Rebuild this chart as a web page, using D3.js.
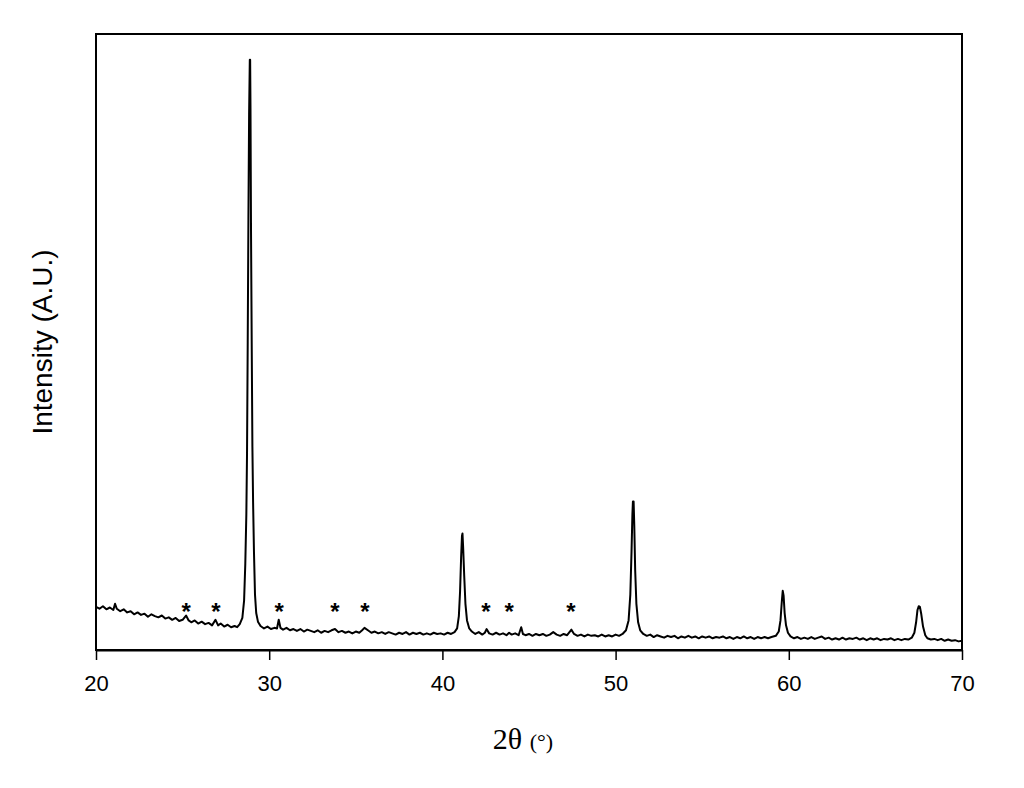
<!DOCTYPE html>
<html>
<head>
    <meta charset="utf-8" />
    <title>XRD pattern</title>
    <style>
        body { margin: 0; background: #fff; }
        svg { display: block; }
    </style>
</head>
<body>
    <script src="https://cdn.jsdelivr.net/npm/d3@7"></script>
    <script>

        // scan: [2θ (deg), intensity (a.u.)]
        let scan = [
            [20.0, 7.0], [20.2, 6.7], [20.4, 7.1], [20.6, 6.6], [20.8, 6.9], [21.0, 6.5], [21.1, 7.5], [21.2, 6.7],
            [21.4, 6.3], [21.6, 6.6], [21.8, 6.1], [22.0, 6.3], [22.2, 5.8], [22.4, 6.1], [22.6, 5.7], [22.8, 5.9],
            [23.0, 5.4], [23.2, 5.8], [23.4, 5.5], [23.6, 5.3], [23.8, 5.6], [24.0, 5.1], [24.2, 5.3], [24.4, 4.9],
            [24.6, 5.2], [24.8, 4.7], [25.0, 4.9], [25.2, 5.6], [25.35, 4.8], [25.5, 4.5], [25.7, 4.8], [25.9, 4.3],
            [26.1, 4.6], [26.3, 4.2], [26.5, 4.4], [26.7, 4.0], [26.9, 4.9], [27.05, 4.0], [27.2, 4.3], [27.4, 3.8],
            [27.6, 4.1], [27.8, 3.7], [28.0, 3.9], [28.15, 3.7], [28.3, 4.2],
            // main reflection
            [28.45, 5.2], [28.55, 8.0], [28.62, 14], [28.68, 22], [28.72, 32], [28.76, 50], [28.80, 70], [28.84, 87],
            [28.88, 95.8], [28.90, 95.8], [28.92, 88], [28.95, 68], [28.99, 50], [29.03, 33], [29.07, 24], [29.12, 16],
            [29.18, 9], [29.25, 6], [29.35, 4.6], [29.5, 3.9],
            [29.7, 3.5], [29.9, 3.8], [30.1, 3.4], [30.3, 3.6], [30.45, 3.5], [30.55, 4.9], [30.65, 3.6], [30.8, 3.3],
            [31.0, 3.6], [31.2, 3.2], [31.4, 3.4], [31.6, 3.1], [31.8, 3.4], [32.0, 3.0], [32.2, 3.3], [32.4, 3.1],
            [32.6, 2.9], [32.8, 3.2], [33.0, 2.8], [33.2, 3.1], [33.4, 2.9], [33.6, 3.2], [33.8, 3.4], [34.0, 2.9],
            [34.2, 3.1], [34.4, 2.8], [34.6, 3.0], [34.8, 2.7], [35.0, 3.0], [35.2, 2.8], [35.4, 3.3], [35.5, 3.6],
            [35.7, 3.2], [35.9, 2.8], [36.1, 3.0], [36.3, 2.7], [36.5, 2.9], [36.7, 2.6], [36.9, 2.9], [37.1, 2.7],
            [37.3, 2.5], [37.5, 2.8], [37.7, 2.6], [37.9, 2.9], [38.1, 2.5], [38.3, 2.8], [38.5, 2.6], [38.7, 2.8],
            [38.9, 2.5], [39.1, 2.7], [39.3, 2.5], [39.5, 2.8], [39.7, 2.6], [39.9, 2.7], [40.1, 2.5], [40.3, 2.8],
            [40.5, 2.6], [40.7, 2.9],
            [40.85, 3.5], [40.95, 5.5], [41.02, 9.5], [41.08, 15], [41.13, 18.5], [41.16, 18.9], [41.20, 16.5],
            [41.26, 12], [41.33, 7.5], [41.42, 4.8], [41.55, 3.5], [41.7, 3.0],
            [41.9, 2.6], [42.1, 2.9], [42.3, 2.5], [42.45, 2.8], [42.55, 3.4], [42.7, 2.7], [42.9, 2.5], [43.1, 2.8],
            [43.3, 2.5], [43.5, 2.7], [43.7, 2.4], [43.85, 2.8], [44.0, 2.5], [44.2, 2.7], [44.4, 2.4], [44.55, 3.7],
            [44.65, 2.6], [44.8, 2.4], [45.0, 2.6], [45.2, 2.3], [45.4, 2.6], [45.6, 2.4], [45.8, 2.6], [46.0, 2.3],
            [46.2, 2.5], [46.4, 2.9], [46.6, 2.5], [46.8, 2.3], [47.0, 2.6], [47.2, 2.4], [47.45, 3.3], [47.6, 2.6],
            [47.8, 2.3], [48.0, 2.5], [48.2, 2.2], [48.4, 2.5], [48.6, 2.3], [48.8, 2.4], [49.0, 2.2], [49.2, 2.5],
            [49.4, 2.2], [49.6, 2.4], [49.8, 2.2], [50.0, 2.5], [50.2, 2.3], [50.4, 2.6],
            [50.6, 3.2], [50.75, 4.8], [50.85, 9], [50.92, 16], [50.97, 22], [51.00, 24.1], [51.04, 24.1], [51.08, 20],
            [51.13, 13], [51.20, 7.5], [51.30, 4.5], [51.42, 3.2], [51.6, 2.6],
            [51.8, 2.3], [52.0, 2.5], [52.2, 2.1], [52.4, 2.4], [52.6, 2.2], [52.8, 2.0], [53.0, 2.3], [53.2, 2.1],
            [53.4, 2.3], [53.6, 1.9], [53.8, 2.2], [54.0, 2.0], [54.2, 2.3], [54.4, 2.0], [54.6, 2.2], [54.8, 1.9],
            [55.0, 2.2], [55.2, 2.0], [55.4, 2.2], [55.6, 1.9], [55.8, 2.1], [56.0, 2.0], [56.2, 2.2], [56.4, 1.9],
            [56.6, 2.1], [56.8, 1.8], [57.0, 2.1], [57.2, 1.9], [57.4, 2.2], [57.6, 1.9], [57.8, 2.1], [58.0, 1.8],
            [58.2, 2.1], [58.4, 1.9], [58.6, 2.1], [58.8, 1.9], [59.0, 2.1],
            [59.25, 2.3], [59.42, 3.0], [59.52, 4.8], [59.60, 8.0], [59.65, 9.6], [59.70, 8.8], [59.76, 6.0],
            [59.84, 4.0], [59.95, 2.8], [60.1, 2.2],
            [60.3, 1.9], [60.5, 2.1], [60.7, 1.8], [60.9, 2.0], [61.1, 1.8], [61.3, 2.1], [61.5, 1.8], [61.7, 2.0],
            [61.9, 2.2], [62.1, 1.8], [62.3, 2.0], [62.5, 1.7], [62.7, 1.9], [62.9, 1.7], [63.1, 2.0], [63.3, 1.7],
            [63.5, 1.9], [63.7, 1.8], [63.9, 2.0], [64.1, 1.7], [64.3, 1.9], [64.5, 1.6], [64.7, 1.9], [64.9, 1.7],
            [65.1, 1.9], [65.3, 1.6], [65.5, 1.8], [65.7, 1.7], [65.9, 1.9], [66.1, 1.6], [66.3, 1.8], [66.5, 1.6],
            [66.7, 1.8], [66.9, 1.7],
            [67.10, 2.0], [67.25, 2.8], [67.35, 4.5], [67.43, 6.5], [67.50, 7.1], [67.57, 7.0], [67.65, 5.8],
            [67.75, 3.8], [67.88, 2.4], [68.0, 1.9],
            [68.2, 1.7], [68.4, 1.8], [68.6, 1.6], [68.8, 1.8], [69.0, 1.5], [69.2, 1.7], [69.4, 1.5], [69.6, 1.6],
            [69.8, 1.4], [70.0, 1.5]
        ]

        // positions of the * markers (2θ)
        let starTheta = [25.2, 26.93, 30.57, 33.8, 35.53, 42.52, 43.85, 47.42]
        let starLevel = 7.0

        let xTicks = [20, 30, 40, 50, 60, 70]

        let margin = { top: 34, right: 62, bottom: 138, left: 96 },
            width = 1024 - margin.left - margin.right,
            height = 788 - margin.top - margin.bottom

        let svg = d3.select('body')
                    .append('svg')
                    .attr('width', 1024)
                    .attr('height', 788)

        let g = svg.append('g')
                    .attr('transform', `translate(${margin.left}, ${margin.top})`)

        let x = d3.scaleLinear().domain([20, 70]).range([0, width])
        let y = d3.scaleLinear().domain([0, 100]).range([height, 0])

        let line = d3.line()
                        .x(function (d) { return x(d[0]) })
                        .y(function (d) { return y(d[1]) })

        g.append('path')
            .datum(scan)
            .attr('d', line)
            .attr('fill', 'none')
            .attr('stroke', '#000')
            .attr('stroke-width', 2)
            .attr('stroke-linejoin', 'round')

        // frame
        g.append('rect')
            .attr('width', width)
            .attr('height', height)
            .attr('fill', 'none')
            .attr('stroke', '#000')
            .attr('stroke-width', 2)

        let xAxis = d3.axisBottom(x)
                        .tickValues(xTicks)
                        .tickSize(10)
                        .tickSizeOuter(0)
                        .tickPadding(15)

        let xAxisG = g.append('g')
            .attr('transform', `translate(0, ${height})`)
            .call(xAxis)

        xAxisG.select('.domain').attr('stroke-width', 2)
        xAxisG.selectAll('.tick line').attr('stroke-width', 1.5)
        xAxisG.selectAll('.tick text')
            .attr('font-family', 'Arial, "Liberation Sans", sans-serif')
            .attr('font-size', 22)
            .attr('fill', '#000')

        // stars
        g.selectAll('text.star')
            .data(starTheta)
            .enter()
                .append('text')
                .classed('star', true)
                .attr('x', function (d) { return x(d) })
                .attr('y', y(starLevel) + 13)
                .attr('text-anchor', 'middle')
                .attr('font-family', 'Arial, "Liberation Sans", sans-serif')
                .attr('font-size', 24)
                .attr('font-weight', 'bold')
                .text('*')

        // axis titles
        svg.append('text')
            .attr('transform', `translate(52, ${margin.top + height / 2}) rotate(-90)`)
            .attr('text-anchor', 'middle')
            .attr('font-family', 'Arial, "Liberation Sans", sans-serif')
            .attr('font-size', 28)
            .text('Intensity (A.U.)')

        let xTitle = svg.append('text')
            .attr('x', 523)
            .attr('y', 749)
            .attr('text-anchor', 'middle')
            .attr('font-family', '"Times New Roman", "Liberation Serif", serif')

        xTitle.append('tspan').attr('font-size', 30).text('2θ ')
        xTitle.append('tspan').attr('font-size', 22).text('(°)')

    </script>
</body>
</html>
